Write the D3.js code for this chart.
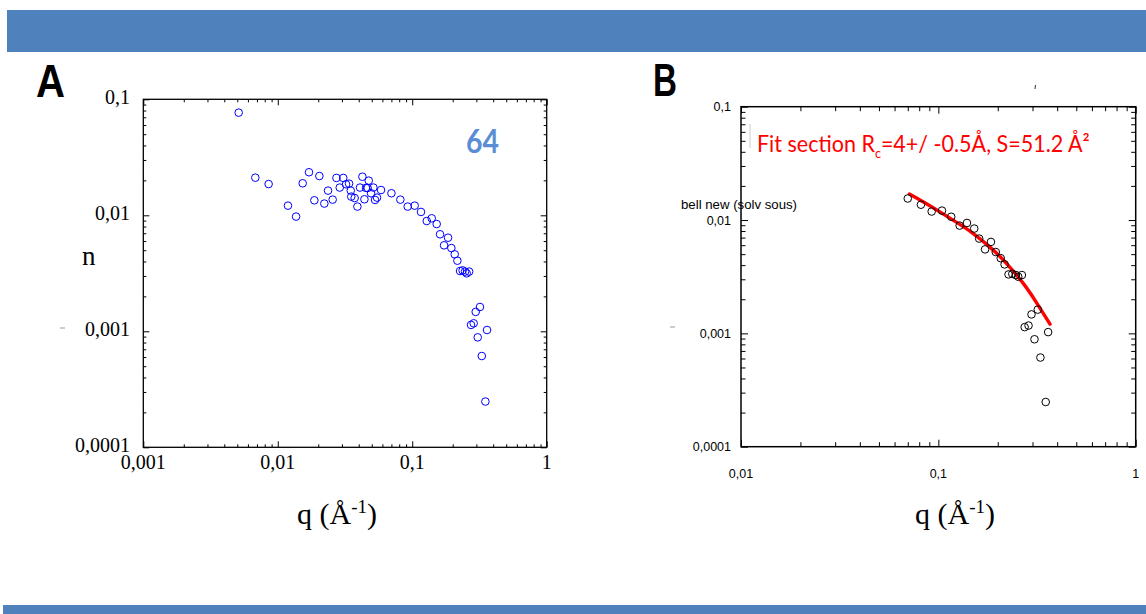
<!DOCTYPE html>
<html>
<head>
<meta charset="utf-8">
<script src="https://cdn.jsdelivr.net/npm/d3@7"></script>
<style>
  html, body { margin: 0; padding: 0; background: #fff; }
  svg { display: block; }
</style>
</head>
<body>
<svg id="chart" width="1146" height="614"></svg>
<script>
// ---------- DATA ----------
// Panel A : q (Å^-1) and intensity
const qA = [0.00512, 0.00681, 0.00855, 0.01191, 0.01368, 0.01532, 0.01707, 0.01871, 0.02038, 0.0222,
            0.02365, 0.0256, 0.0273, 0.0289, 0.0307, 0.0322, 0.0339, 0.0349, 0.0352, 0.0373,
            0.0391, 0.0409, 0.0426, 0.0441, 0.0453, 0.0466, 0.0475, 0.0494, 0.0514, 0.0529,
            0.0547, 0.0586, 0.0700, 0.0816, 0.0925, 0.1043, 0.1162, 0.1282, 0.1396, 0.152,
            0.161, 0.1725, 0.1847, 0.1954, 0.207, 0.2166, 0.2268, 0.237, 0.247, 0.254,
            0.265, 0.2737, 0.2864, 0.2965, 0.307, 0.319, 0.329, 0.350, 0.360];
const IA = [0.0767, 0.0211, 0.0186, 0.01211, 0.00975, 0.01888, 0.0235, 0.01346, 0.0218, 0.01262,
            0.01632, 0.01365, 0.0210, 0.01734, 0.0210, 0.0185, 0.01875, 0.01632, 0.01449, 0.01409,
            0.01189, 0.01734, 0.0215, 0.01374, 0.01722, 0.0172, 0.0199, 0.01549, 0.01734, 0.01356,
            0.0142, 0.01652, 0.01549, 0.01365, 0.01189, 0.01211, 0.01069, 0.00893, 0.00942, 0.00841,
            0.00686, 0.00551, 0.00641, 0.00522, 0.00461, 0.00406, 0.00331, 0.00335, 0.00327, 0.00316,
            0.00327, 0.001135, 0.001172, 0.00147, 0.000887, 0.00162, 0.000612, 0.000248, 0.001026];
// Panel B : fitted cross-section curve
const qFit = [0.0713, 0.085, 0.1018, 0.125, 0.1503, 0.185, 0.2218, 0.2693, 0.3148, 0.368];
const IFit = [0.01698, 0.01428, 0.01179, 0.00943, 0.00759, 0.00565, 0.00413, 0.00276, 0.00186, 0.001207];
const qMinB = 0.065; // panel B shows the data from this q on

// Tick labels
const xTicksA = [0.001, 0.01, 0.1, 1];
const xLabelsA = ["0,001", "0,01", "0,1", "1"];
const yTicksA = [0.0001, 0.001, 0.01, 0.1];
const yLabelsA = ["0,0001", "0,001", "0,01", "0,1"];
const xTicksB = [0.01, 0.1, 1];
const xLabelsB = ["0,01", "0,1", "1"];
const yTicksB = [0.0001, 0.001, 0.01, 0.1];
const yLabelsB = ["0,0001", "0,001", "0,01", "0,1"];

// ---------- DRAW ----------
const svg = d3.select("#chart");
const banner = "#4F81BD";
svg.append("rect").attr("x", 7).attr("y", 10).attr("width", 1139).attr("height", 42).attr("fill", banner);
svg.append("rect").attr("x", 3).attr("y", 605).attr("width", 1143).attr("height", 9).attr("fill", banner);

function frame(g, x, y, opts) {
  const [x0, x1] = x.range();
  const [y0, y1] = y.range(); // y0 bottom, y1 top
  const xMaj = opts.xMaj, yMaj = opts.yMaj;
  const isMaj = (v, arr) => arr.some(m => Math.abs(Math.log10(v) - Math.log10(m)) < 1e-6);
  const xMin = x.ticks().filter(v => !isMaj(v, xMaj));
  const yMin = y.ticks().filter(v => !isMaj(v, yMaj));
  const add = (axisFn, scale, vals, size, tr) => {
    const a = g.append("g").attr("transform", tr)
      .call(axisFn(scale).tickValues(vals).tickSize(-size).tickFormat(""));
    a.select(".domain").remove();
    a.selectAll("line").attr("stroke", "#000").attr("stroke-width", opts.tw);
  };
  [[xMaj, opts.maj], [xMin, opts.min]].forEach(([vals, s]) => {
    add(d3.axisBottom, x, vals, s, `translate(0,${y0})`);
    add(d3.axisTop, x, vals, s, `translate(0,${y1})`);
  });
  [[yMaj, opts.maj], [yMin, opts.min]].forEach(([vals, s]) => {
    add(d3.axisLeft, y, vals, s, `translate(${x0},0)`);
    add(d3.axisRight, y, vals, s, `translate(${x1},0)`);
  });
  g.append("rect").attr("x", x0).attr("y", y1).attr("width", x1 - x0).attr("height", y0 - y1)
    .attr("fill", "none").attr("stroke", "#000").attr("stroke-width", opts.fw);
}

// ----- Panel A -----
const xA = d3.scaleLog().domain([0.001, 1]).range([143.3, 546.7]);
const yA = d3.scaleLog().domain([0.0001, 0.1]).range([447.3, 99.3]);
const gA = svg.append("g");
frame(gA, xA, yA, { xMaj: xTicksA, yMaj: yTicksA, maj: 6, min: 3, tw: 1, fw: 1.3 });

const serif = "'Liberation Serif', 'Times New Roman', serif";
gA.selectAll("text.xl").data(xTicksA).join("text")
  .attr("x", d => xA(d)).attr("y", 469).attr("text-anchor", "middle")
  .attr("font-family", serif).attr("font-size", 20).text((d, i) => xLabelsA[i]);
gA.selectAll("text.yl").data(yTicksA).join("text")
  .attr("x", 130).attr("y", d => yA(d) + 5).attr("text-anchor", "end")
  .attr("font-family", serif).attr("font-size", 20).text((d, i) => yLabelsA[i]);

gA.selectAll("circle").data(qA.map((q, i) => [q, IA[i]])).join("circle")
  .attr("cx", d => xA(d[0])).attr("cy", d => yA(d[1])).attr("r", 3.8)
  .attr("fill", "none").attr("stroke", "#0000ff").attr("stroke-width", 1);

gA.append("text").attr("x", 466).attr("y", 153).attr("font-family", "Lato, 'Open Sans', sans-serif")
  .attr("font-weight", "bold").attr("font-size", 32).attr("fill", "#5B8DD6")
  .attr("textLength", 33).attr("lengthAdjust", "spacingAndGlyphs").text("64");

gA.append("text").attr("x", 82).attr("y", 265).attr("font-family", serif).attr("font-size", 27).text("n");

const qlabA = gA.append("text").attr("x", 337).attr("y", 524).attr("text-anchor", "middle")
  .attr("font-family", serif).attr("font-size", 30);
qlabA.append("tspan").text("q (Å");
qlabA.append("tspan").attr("font-size", 19).attr("dy", -11).text("-1");
qlabA.append("tspan").attr("dy", 11).text(")");

svg.append("text").attr("x", 36).attr("y", 97).attr("font-family", "'Liberation Sans Narrow', 'Liberation Sans', Arial, sans-serif")
  .attr("font-weight", "bold").attr("font-size", 46).attr("textLength", 29).attr("lengthAdjust", "spacingAndGlyphs").text("A");

// ----- Panel B -----
const xB = d3.scaleLog().domain([0.01, 1]).range([741, 1135.7]);
const yB = d3.scaleLog().domain([0.0001, 0.1]).range([446.7, 106.7]);
const gB = svg.append("g");
frame(gB, xB, yB, { xMaj: xTicksB, yMaj: yTicksB, maj: 7, min: 4.5, tw: 1, fw: 1.5 });

const sans = "'Liberation Sans', Arial, sans-serif";
gB.selectAll("text.xl").data(xTicksB).join("text")
  .attr("x", d => xB(d)).attr("y", 478).attr("text-anchor", "middle")
  .attr("font-family", sans).attr("font-size", 12.5).text((d, i) => xLabelsB[i]);
gB.selectAll("text.yl").data(yTicksB).join("text")
  .attr("x", 731).attr("y", d => yB(d) + 4.5).attr("text-anchor", "end")
  .attr("font-family", sans).attr("font-size", 12.5).text((d, i) => yLabelsB[i]);

const lineB = d3.line().x(d => xB(d[0])).y(d => yB(d[1])).curve(d3.curveNatural);
gB.append("path").datum(qFit.map((q, i) => [q, IFit[i]])).attr("d", lineB)
  .attr("fill", "none").attr("stroke", "#ff0000").attr("stroke-width", 3.4).attr("stroke-linecap", "round");

gB.selectAll("circle").data(qA.map((q, i) => [q, IA[i]]).filter(d => d[0] >= qMinB)).join("circle")
  .attr("cx", d => xB(d[0])).attr("cy", d => yB(d[1])).attr("r", 3.8)
  .attr("fill", "none").attr("stroke", "#000").attr("stroke-width", 1);

gB.append("text").attr("x", 681).attr("y", 209).attr("font-family", sans).attr("font-size", 13)
  .attr("textLength", 116).attr("lengthAdjust", "spacingAndGlyphs").text("bell new (solv sous)");

// Fit annotation: natural text, then squeezed horizontally to the reference width
const fitG = gB.append("g");
const fit = fitG.append("text").attr("x", 0).attr("y", 0).attr("font-family", "Lato, 'Open Sans', sans-serif")
  .attr("font-size", 24).attr("fill", "#ff0000");
fit.append("tspan").text("Fit section R");
fit.append("tspan").attr("font-size", 14).attr("dy", 6).text("c");
fit.append("tspan").attr("dy", -6).text("=4+/ -0.5Å, S=51.2 Å²");
const fitLen = fit.node().getComputedTextLength() || 333;
fitG.attr("transform", `translate(757,152) scale(${333 / fitLen},1)`);

gB.append("line").attr("x1", 750).attr("x2", 750).attr("y1", 124).attr("y2", 148).attr("stroke", "#ccc").attr("stroke-width", 1);
gB.append("line").attr("x1", 1035.5).attr("x2", 1035).attr("y1", 85).attr("y2", 89).attr("stroke", "#333").attr("stroke-width", 1);

const qlabB = gB.append("text").attr("x", 955).attr("y", 524).attr("text-anchor", "middle")
  .attr("font-family", serif).attr("font-size", 30);
qlabB.append("tspan").text("q (Å");
qlabB.append("tspan").attr("font-size", 19).attr("dy", -11).text("-1");
qlabB.append("tspan").attr("dy", 11).text(")");

svg.append("text").attr("x", 653).attr("y", 96).attr("font-family", "'Liberation Sans Narrow', 'Liberation Sans', Arial, sans-serif")
  .attr("font-weight", "bold").attr("font-size", 46).attr("textLength", 24).attr("lengthAdjust", "spacingAndGlyphs").text("B");

// faint stray marks
[[60, 65, 328], [670, 675, 327]].forEach(([a, b, y]) =>
  svg.append("line").attr("x1", a).attr("x2", b).attr("y1", y).attr("y2", y).attr("stroke", "#999").attr("stroke-width", 1));
</script>
</body>
</html>
